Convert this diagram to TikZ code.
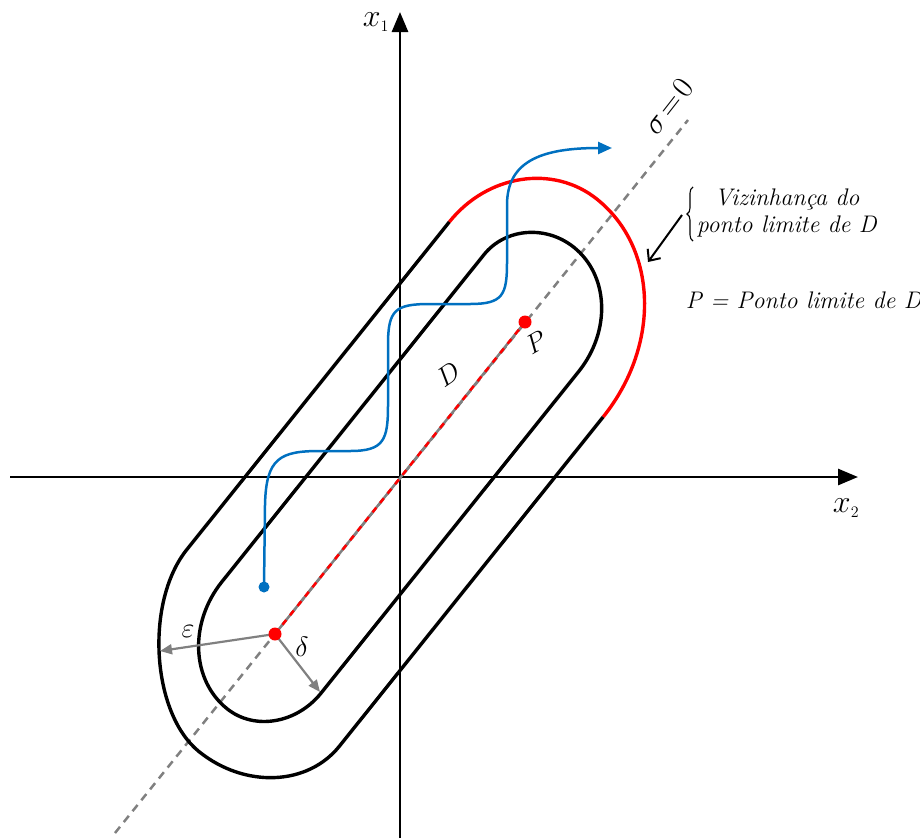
\RequirePackage{fix-cm}
\documentclass[tikz,border=0pt]{standalone}
\usepackage{fontspec}
\usetikzlibrary{arrows.meta,decorations.pathreplacing}
\definecolor{cblue}{HTML}{0070C0}
\definecolor{cgray}{HTML}{808080}
\begin{document}
\begin{tikzpicture}[x=1pt,y=-1pt,
  axis/.style={line width=2.8pt,-{Triangle[length=20pt,width=16pt]}},
  bound/.style={line width=3.4pt,black,line join=round},
  nbhd/.style={line width=3.4pt,red},
  sigmaline/.style={line width=2.5pt,cgray,dash pattern=on 8pt off 6pt},
  garrow/.style={line width=2.2pt,cgray,-{Triangle[length=12pt,width=10pt]}},
  reddot/.style={circle,fill=red,inner sep=0pt,minimum size=13pt},
  bluedot/.style={circle,fill=cblue,inner sep=0pt,minimum size=11pt},
  lbl/.style={font=\fontsize{24}{29}\selectfont},
  axlbl/.style={font=\fontsize{32}{36}\selectfont},
  greek/.style={font=\fontsize{28}{32}\selectfont},
  setlbl/.style={font=\fontsize{27}{31}\selectfont}
]
\useasboundingbox (0,0) rectangle (920,838);

% axes
\coordinate (x1s) at (400,838);
\coordinate (x1e) at (400,12);
\coordinate (x2s) at (10,477);
\coordinate (x2e) at (858,477);
\draw[axis] (x1s) -- (x1e);
\draw[axis] (x2s) -- (x2e);
\node[axlbl] (lx1) at (376,22) {$x_{\scriptscriptstyle 1}$};
\node[axlbl] (lx2) at (846,508) {$x_{\scriptscriptstyle 2}$};

% sigma = 0 line
\coordinate (sa) at (115,833);
\coordinate (sb) at (688,120);
\draw[sigmaline] (sa) -- (sb);
\node[font=\fontsize{31}{36}\selectfont,rotate=52,inner sep=1pt] (sig) at (668,106) {${\sigma}\mkern2mu{=}\mkern2mu{0}$};

% boundaries, drawn in a frame along sigma = 0
\begin{scope}[shift={(400,477)},rotate=51.3]
  % inner (delta)
  \draw[bound] (-193,-73.5) -- (226,-73.5)
    .. controls (260,-73.5) and (288,-44) .. (288,-8)
    .. controls (288,37) and (246,73.5) .. (194,73.5)
    -- (-218,73.5)
    .. controls (-257,73.5) and (-289,45) .. (-289,10)
    .. controls (-289,-36) and (-246,-73.5) .. (-193,-73.5) -- cycle;
  % outer (epsilon), black part
  \draw[bound] (174,121) -- (-248,121)
    .. controls (-299,121) and (-340,73.5) .. (-340,15)
    .. controls (-340,-46) and (-257.5,-121) .. (-190,-121)
    -- (230,-121);
  % outer, red neighbourhood of P
  \draw[nbhd] (230,-121)
    .. controls (291,-121) and (340,-76) .. (340,-20)
    .. controls (340,58) and (266,121) .. (174,121);
\end{scope}

% set D
\coordinate (Dlc) at (275,634);
\coordinate (Pc) at (525,322);
\draw[line width=2.5pt,cgray] (Dlc) -- (Pc);
\draw[line width=2.5pt,red,dash pattern=on 6pt off 6pt] (Dlc) -- (Pc);

% epsilon / delta arrows
\coordinate (epsE) at (160,651);
\coordinate (delE) at (320,692);
\draw[garrow] (Dlc) -- (epsE);
\draw[garrow] (Dlc) -- (delE);
\node[greek] (leps) at (188,631) {$\varepsilon$};
\node[greek] (ldel) at (302,647) {$\delta$};

\node[reddot] (Dl) at (Dlc) {};
\node[reddot] (P) at (Pc) {};
\node[setlbl,rotate=35] (lD) at (448,374) {$D$};
\node[setlbl,rotate=30] (lP) at (536,342) {$P$};

% blue trajectory
\node[bluedot] (b0) at (264,587) {};
\coordinate (bend) at (612,148);
\draw[line width=2.5pt,cblue,-{Triangle[length=14pt,width=12pt]}]
  (b0.center) -- (265,505) .. controls (266,458) and (280,451) .. (320,451)
  -- (350,451) .. controls (384,451) and (388,440) .. (388,405)
  -- (388,345) .. controls (388,310) and (395,304) .. (430,304)
  -- (470,304) .. controls (503,304) and (507,295) .. (507,262)
  -- (507,205) .. controls (507,162) and (540,148) .. (bend);

% annotations
\coordinate (brB) at (693,241);
\coordinate (brT) at (693,187);
\draw[line width=1.1pt,decorate,decoration={brace,amplitude=6pt}] (brB) -- (brT);
\node[lbl,inner sep=0pt,align=center] (vz) at (787,213) {\textit{Vizinhança do}\\[-2pt]\textit{ponto limite de D}};
\coordinate (aS) at (682,215);
\coordinate (aE) at (648,262);
\draw[line width=2pt,-{Straight Barb[length=9pt,width=16pt,line width=2pt]}] (aS) -- (aE);
\node[lbl] (pdef) at (804,300) {\textit{P = Ponto limite de D}};
\end{tikzpicture}
\end{document}
